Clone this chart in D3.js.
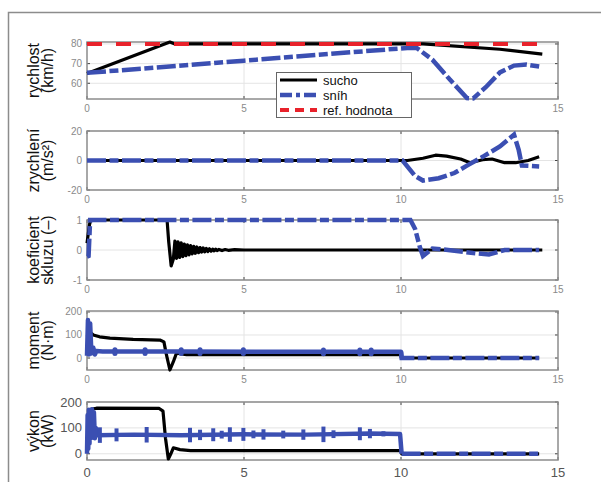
<!DOCTYPE html>
<html>
<head>
<meta charset="utf-8">
<script src="https://cdn.jsdelivr.net/npm/d3@7"></script>
<style>
  body { margin: 0; background: #fff; }
  svg { display: block; font-family: "Liberation Sans", Arial, sans-serif; }
</style>
</head>
<body>
<div id="chart"></div>
<script>
let W = 601
let H = 482

// time axis (s)
let xTicks = [0, 5, 10, 15]

// rychlost (km/h)
let speedDry = [[0, 65], [2.64, 81], [2.8, 80], [10.7, 80], [13.15, 77.3], [14.5, 74.8]]
let speedSnow = [[0, 65.3], [5, 71.5], [10.2, 78], [10.5, 78], [11.0, 72], [11.55, 62], [12.1, 52.5], [12.3, 52.3],
    [12.7, 58], [13.15, 65.5], [13.6, 69], [14.0, 69.5], [14.4, 68.5]]
let speedRef = [[0, 80], [14.5, 80]]

// zrychlení (m/s2)
let accDry = [[0, 0], [10.2, 0], [10.7, 1.5], [11.1, 3.6], [11.45, 3], [11.9, 1], [12.2, -1.5], [12.6, 0.5],
    [12.9, 1], [13.3, -1.5], [13.65, -1.5], [14.05, 0], [14.4, 2.5]]
let accSnow = [[0, 0], [10.05, 0], [10.45, -10.5], [10.7, -13.6], [11.2, -12], [11.7, -8.5], [12.1, -3.5],
    [12.6, 2.5], [13.15, 9.5], [13.6, 17.5], [13.75, 7], [13.85, -3.4], [14.4, -4]]

// koeficient skluzu (-)
let slipDry = [[0, 0.23], [0.08, 0.85], [0.12, 1], [2.55, 1], [2.6, 0.3], [2.68, -0.53], [2.75, -0.3],
    [2.8, 0.3], [2.85, -0.28], [2.9, 0.27], [2.95, -0.25], [3.0, 0.24], [3.05, -0.22], [3.1, 0.2],
    [3.15, -0.19], [3.2, 0.17], [3.25, -0.16], [3.3, 0.15], [3.35, -0.13], [3.4, 0.12], [3.45, -0.11],
    [3.5, 0.1], [3.55, -0.09], [3.6, 0.08], [3.65, -0.07], [3.7, 0.07], [3.75, -0.06], [3.8, 0.05],
    [3.85, -0.05], [3.9, 0.04], [3.95, -0.04], [4.0, 0.03], [4.05, -0.03], [4.1, 0.03], [4.15, -0.02],
    [4.2, 0.02], [4.3, -0.02], [4.4, 0.015], [4.5, -0.01], [4.7, 0.01], [5, 0], [14.5, 0]]
let slipSnow = [[0, -0.22], [0.05, -0.2], [0.1, 1], [10.3, 1], [10.45, 0.7], [10.6, 0.1], [10.7, -0.2],
    [11.0, 0.05], [11.5, 0], [12.3, -0.1], [12.8, -0.15], [13.3, 0], [14.4, 0]]

// moment (N·m)
let torqueDry = [[0, 92], [0.1, 112], [0.2, 100], [0.4, 92], [0.73, 86], [1.47, 81], [2.32, 78], [2.45, 70],
    [2.52, 20], [2.64, -52], [2.75, -16], [2.85, 21], [3.17, 15], [10, 15], [10.02, 0], [14.4, 0]]
let torqueSnow = [[0, 10], [0.03, 165], [0.06, 15], [0.1, 150], [0.14, 20], [0.2, 45], [0.25, 15], [0.3, 30],
    [0.5, 28], [3, 28], [6, 27], [10, 27], [10.02, 0], [14.4, 0]]
let torqueSnowBumps = [0.89, 1.85, 3.0, 3.6, 4.98, 7.53, 8.69, 9.05]

// výkon (kW)
let powerDry = [[0, 5], [0.05, 140], [0.12, 172], [0.3, 176], [2.3, 175], [2.42, 165], [2.5, 60], [2.59, -20],
    [2.67, 0], [2.75, 23], [2.96, 16], [3.3, 12], [10, 12], [10.02, 0], [14.4, 0]]
let powerSnow = [[0, 0], [0.02, 150], [0.04, 20], [0.06, 170], [0.08, 40], [0.1, 165], [0.13, 60], [0.16, 172],
    [0.19, 90], [0.22, 160], [0.25, 60], [0.28, 100], [0.32, 72], [1.5, 74], [3, 72], [5, 75], [7, 74],
    [9, 78], [9.97, 76], [10.02, 0], [14.4, 0]]
let powerSnowBursts = [[0.41, 30], [0.94, 25], [1.9, 30], [3.28, 28], [3.6, 20], [4.02, 25], [4.29, 15],
    [4.55, 28], [4.98, 25], [5.3, 15], [5.62, 20], [6.25, 15], [6.89, 20], [7.53, 30], [7.85, 15],
    [8.69, 25], [9.01, 18], [9.44, 10]]

let legendNames = ["sucho", "sníh", "ref. hodnota"]

let colDry = "#000000"
let colSnow = "#3b4fb2"
let colRef = "#e8222b"
let snowDash = "19,3.5,9,3.5"
let refDash = "15,14"

let panels = [
    {top: 42, bottom: 99, domain: [52, 81], ticks: [60, 70, 80], label: ["rychlost", "(km/h)"],
        dry: speedDry, snow: speedSnow, ref: speedRef, font: 10, tickCol: "#8a8a8a", hideX: [10]},
    {top: 131, bottom: 190, domain: [-20, 20], ticks: [-20, 0, 20], label: ["zrychlení", "(m/s²)"],
        dry: accDry, snow: accSnow, font: 10, tickCol: "#8a8a8a"},
    {top: 220, bottom: 280, domain: [-1, 1], ticks: [-1, 0, 1], label: ["koeficient", "skluzu (–)"],
        dry: slipDry, snow: slipSnow, font: 10, tickCol: "#8a8a8a"},
    {top: 311, bottom: 370, domain: [-52, 204], ticks: [0, 100, 200], label: ["moment", "(N·m)"],
        dry: torqueDry, snow: torqueSnow, bumps: torqueSnowBumps, solidUntil: 10, font: 10, tickCol: "#8a8a8a"},
    {top: 402, bottom: 460, domain: [-24, 200], ticks: [0, 100, 200], label: ["výkon", "(kW)"],
        dry: powerDry, snow: powerSnow, bursts: powerSnowBursts, solidUntil: 10, font: 13, tickCol: "#555"}
]

let svg = d3.select("#chart").append("svg")
    .attr("width", W)
    .attr("height", H)

// rámeček obrázku
svg.append("rect")
    .attr("x", 8.5).attr("y", 12.5)
    .attr("width", 620).attr("height", 500)
    .attr("fill", "none")
    .attr("stroke", "#8c8c8c")
    .attr("stroke-width", 1.5)

let x = d3.scaleLinear().domain([0, 15]).range([87, 558])

panels.forEach(function (p) {
    let y = d3.scaleLinear().domain(p.domain).range([p.bottom, p.top])
    let g = svg.append("g")
    let line = d3.line().x(d => x(d[0])).y(d => y(d[1]))

    // mřížka
    g.append("g").selectAll("line")
        .data(xTicks.slice(1, -1)).join("line")
        .attr("x1", d => x(d)).attr("x2", d => x(d))
        .attr("y1", p.top).attr("y2", p.bottom)
        .attr("stroke", "#e4e4e4")
    g.append("g").selectAll("line")
        .data(p.ticks).join("line")
        .attr("x1", x(0)).attr("x2", x(15))
        .attr("y1", d => y(d)).attr("y2", d => y(d))
        .attr("stroke", "#e4e4e4")

    // ticks inward on all sides
    let tk = g.append("g").attr("stroke", "#444").attr("stroke-width", 1)
    xTicks.forEach(t => {
        tk.append("line").attr("x1", x(t)).attr("x2", x(t)).attr("y1", p.bottom).attr("y2", p.bottom - 3)
        tk.append("line").attr("x1", x(t)).attr("x2", x(t)).attr("y1", p.top).attr("y2", p.top + 3)
    })
    p.ticks.forEach(v => {
        tk.append("line").attr("x1", x(0)).attr("x2", x(0) + 3).attr("y1", y(v)).attr("y2", y(v))
        tk.append("line").attr("x1", x(15)).attr("x2", x(15) - 3).attr("y1", y(v)).attr("y2", y(v))
    })

    g.append("rect")
        .attr("x", x(0)).attr("y", p.top)
        .attr("width", x(15) - x(0)).attr("height", p.bottom - p.top)
        .attr("fill", "none")
        .attr("stroke", "#8c8c8c")
        .attr("stroke-width", 1.5)

    // popisky os (label "10" of top panel sits under the legend)
    let hide = p.hideX || []
    g.append("g").selectAll("text")
        .data(xTicks.filter(t => !hide.includes(t))).join("text")
        .attr("x", d => x(d))
        .attr("y", p.bottom + (p.font > 10 ? 17 : 13))
        .attr("text-anchor", "middle")
        .attr("font-size", p.font)
        .attr("fill", p.tickCol)
        .text(d => d)
    g.append("g").selectAll("text")
        .data(p.ticks).join("text")
        .attr("x", x(0) - 5)
        .attr("y", d => y(d))
        .attr("dy", "0.35em")
        .attr("text-anchor", "end")
        .attr("font-size", p.font)
        .attr("fill", p.tickCol)
        .text(d => d)

    let cy = (p.top + p.bottom) / 2
    p.label.forEach((s, i) => {
        g.append("text")
            .attr("transform", `translate(${i === 0 ? 39 : 53},${cy}) rotate(-90)`)
            .attr("text-anchor", "middle")
            .attr("font-size", 16)
            .attr("fill", "#111")
            .text(s)
    })

    // průběhy
    g.append("path")
        .attr("d", line(p.dry))
        .attr("fill", "none")
        .attr("stroke", colDry)
        .attr("stroke-width", 3.2)
        .attr("stroke-linejoin", "round")

    if (p.solidUntil != null) {
        let a = p.snow.filter(d => d[0] <= p.solidUntil + 0.05)
        let b = p.snow.filter(d => d[0] >= p.solidUntil)
        g.append("path")
            .attr("d", line(a))
            .attr("fill", "none")
            .attr("stroke", colSnow)
            .attr("stroke-width", 4.5)
            .attr("stroke-linejoin", "round")
        g.append("path")
            .attr("d", line(b))
            .attr("fill", "none")
            .attr("stroke", colSnow)
            .attr("stroke-width", 4.5)
            .attr("stroke-dasharray", snowDash)
    } else {
        g.append("path")
            .attr("d", line(p.snow))
            .attr("fill", "none")
            .attr("stroke", colSnow)
            .attr("stroke-width", 4.5)
            .attr("stroke-dasharray", snowDash)
    }

    if (p.bumps) {
        let lvl = d3.scaleLinear().domain(p.snow.map(d => d[0])).range(p.snow.map(d => d[1]))
        g.append("g").selectAll("line")
            .data(p.bumps).join("line")
            .attr("x1", d => x(d)).attr("x2", d => x(d))
            .attr("y1", d => y(lvl(d) + 8)).attr("y2", d => y(lvl(d) - 8))
            .attr("stroke", colSnow)
            .attr("stroke-width", 5)
            .attr("stroke-linecap", "round")
    }
    if (p.bursts) {
        let lvl = d3.scaleLinear().domain(p.snow.map(d => d[0])).range(p.snow.map(d => d[1]))
        g.append("g").selectAll("line")
            .data(p.bursts).join("line")
            .attr("x1", d => x(d[0])).attr("x2", d => x(d[0]))
            .attr("y1", d => y(lvl(d[0]) + d[1])).attr("y2", d => y(lvl(d[0]) - d[1]))
            .attr("stroke", colSnow)
            .attr("stroke-width", 4)
    }

    if (p.ref) {
        g.append("path")
            .attr("d", line(p.ref))
            .attr("fill", "none")
            .attr("stroke", colRef)
            .attr("stroke-width", 4)
            .attr("stroke-dasharray", refDash)
    }
})

// legenda
let lg = svg.append("g")
lg.append("rect")
    .attr("x", 276.5).attr("y", 72.5)
    .attr("width", 135).attr("height", 45)
    .attr("fill", "#fff")
    .attr("stroke", "#666")
    .attr("stroke-width", 1)
let legStyles = [
    {col: colDry, w: 3.2, dash: null},
    {col: colSnow, w: 4.5, dash: "12,4,4,4"},
    {col: colRef, w: 4, dash: "9,6"}
]
legendNames.forEach((name, i) => {
    let cy = 80 + i * 15
    lg.append("line")
        .attr("x1", 280).attr("x2", 317)
        .attr("y1", cy).attr("y2", cy)
        .attr("stroke", legStyles[i].col)
        .attr("stroke-width", legStyles[i].w)
        .attr("stroke-dasharray", legStyles[i].dash)
    lg.append("text")
        .attr("x", 323).attr("y", cy + 4.5)
        .attr("font-size", 13)
        .attr("fill", "#111")
        .text(name)
})
</script>
</body>
</html>
